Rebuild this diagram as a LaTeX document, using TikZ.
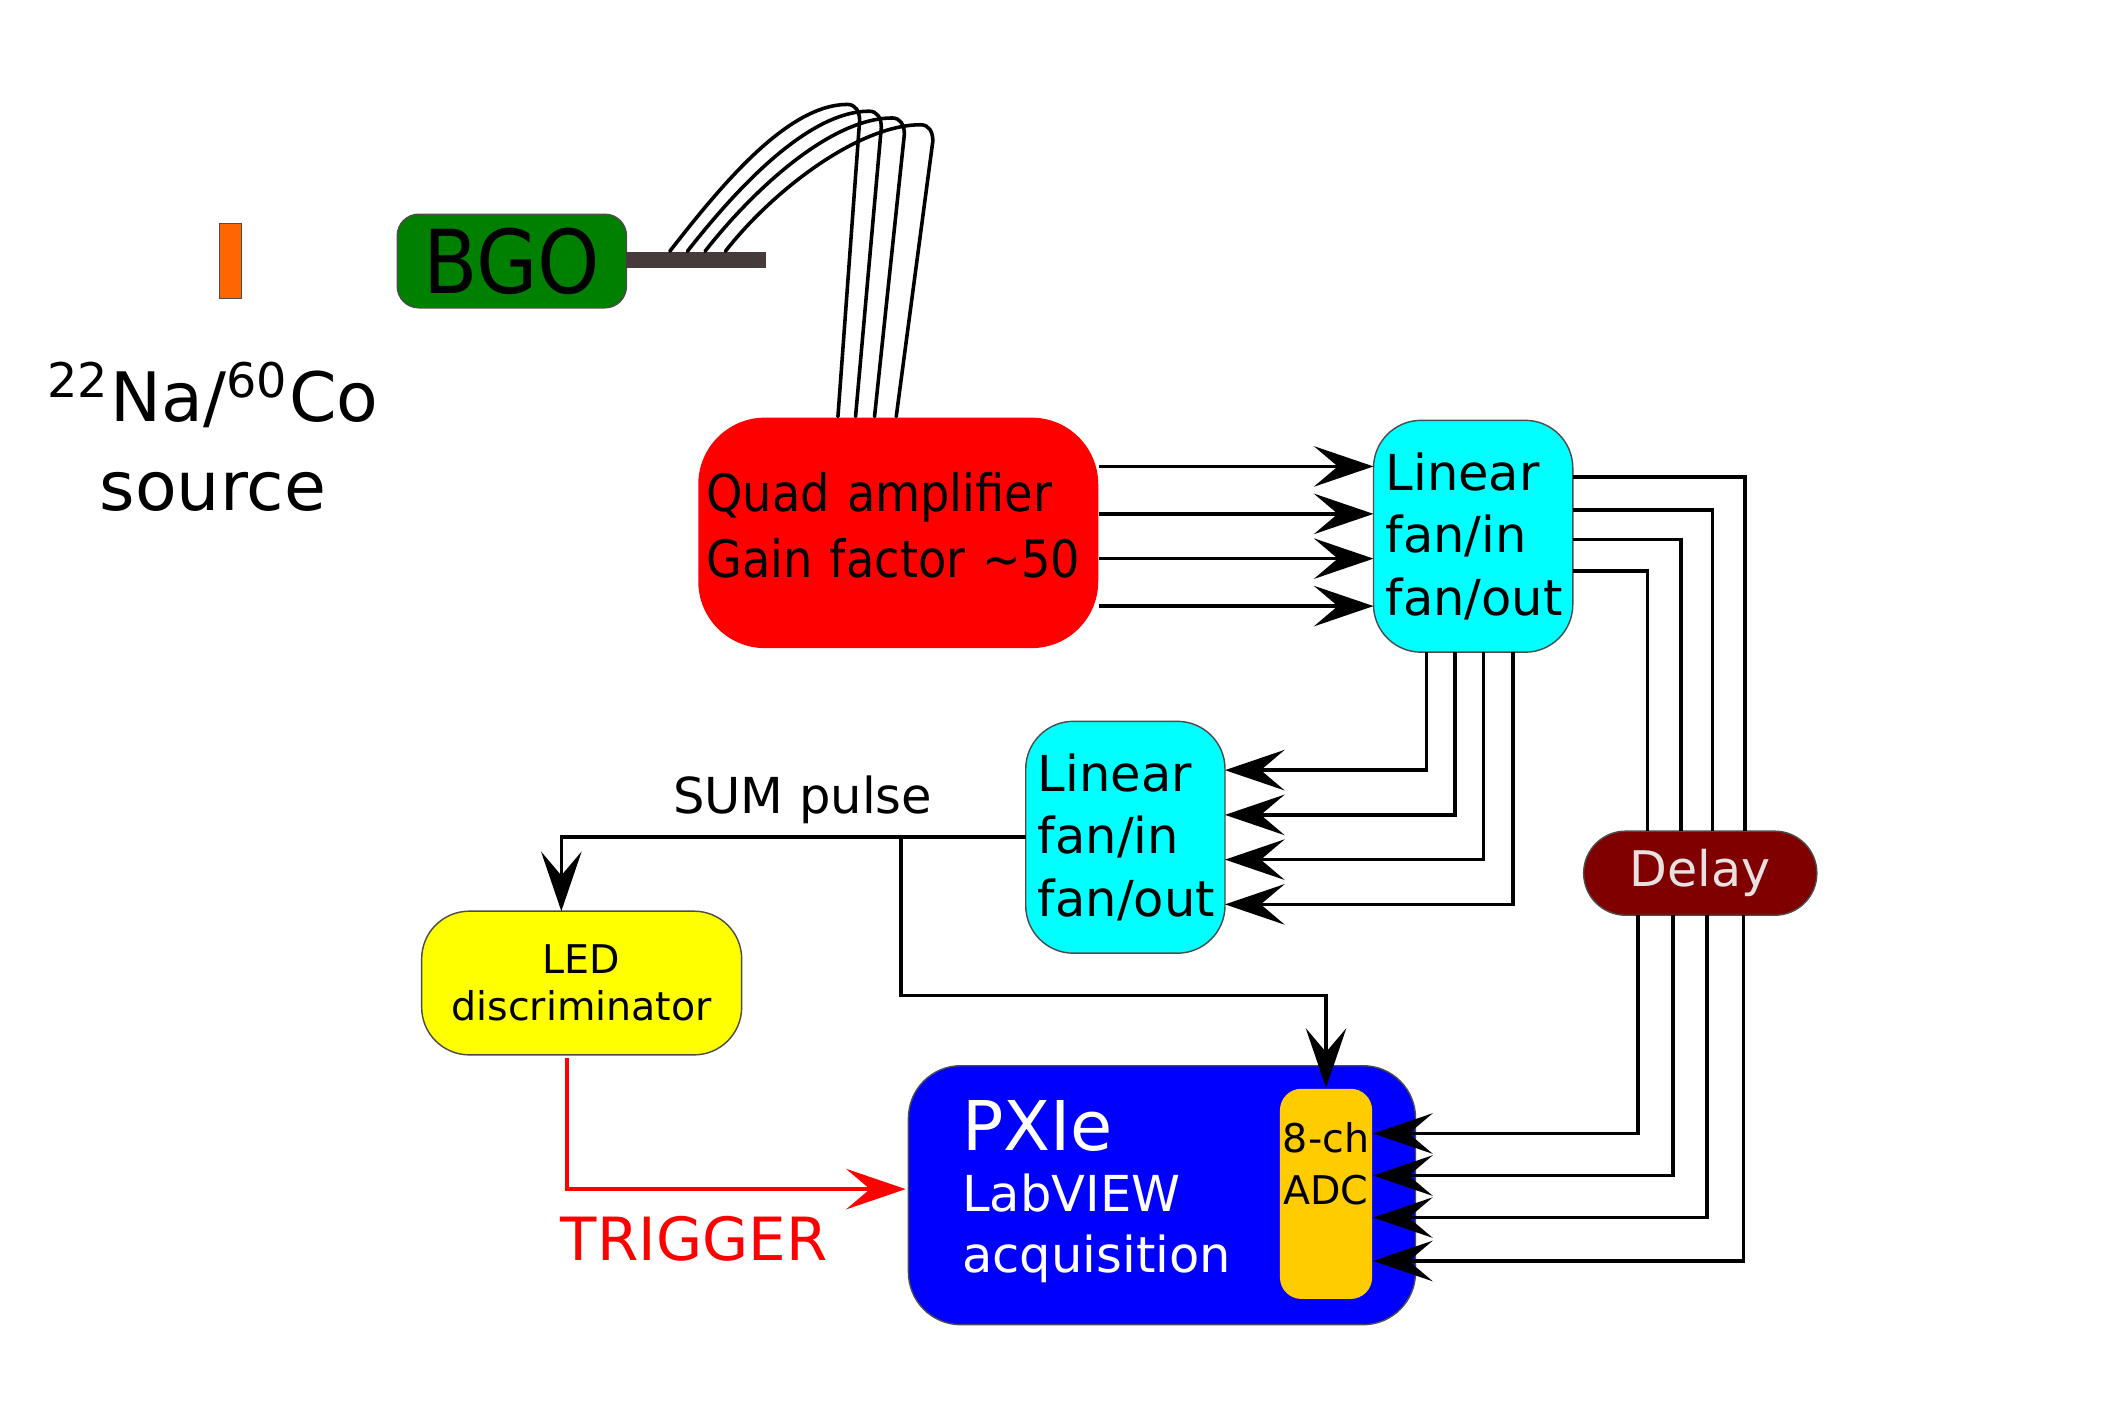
\documentclass[tikz,border=0pt]{standalone}
\usepackage{fontspec}
\setmainfont{DejaVu Sans}
\newfontfamily\condfont{DejaVu Sans Condensed}
\usepackage{tikz}
\usetikzlibrary{arrows.meta,calc}
\usepackage{xcolor}
\definecolor{srcorange}{HTML}{FF6600}
\definecolor{bgogreen}{HTML}{008000}
\definecolor{pmtgray}{HTML}{473A3A}
\definecolor{fancyan}{HTML}{00FFFF}
\definecolor{ledyellow}{HTML}{FFFF00}
\definecolor{pxiblue}{HTML}{0000FF}
\definecolor{adcorange}{HTML}{FFCC00}
\definecolor{delayred}{HTML}{800000}
\definecolor{delaytext}{HTML}{E9E1E1}
\tikzset{
  >={Stealth[length=12.5pt,width=8.5pt,inset=5pt]}, % big black arrow heads
  sig/.style={line width=0.75pt,black},
  trig/.style={line width=0.75pt,red},
  cable/.style={line width=0.75pt,line cap=round}
}
\tikzset{basic/.style={draw=black!70,line width=0.3pt,inner sep=0pt,outer sep=0pt}}
\tikzset{srcbox/.style={basic,fill=srcorange,minimum width=1.6mm,minimum height=5.5mm}}
\tikzset{srclabel/.style={inner sep=0pt,align=center,anchor=north,
                          font=\fontsize{14.3}{18.5}\selectfont}}
\tikzset{bgobox/.style={basic,fill=bgogreen,rounded corners=4.5pt,minimum width=16.9mm,
                        minimum height=6.9mm,font=\condfont\fontsize{18.5}{20}\selectfont}}
\tikzset{pmtbar/.style={fill=pmtgray,inner sep=0pt,minimum width=10.3mm,minimum height=1.2mm}}
\tikzset{ampbox/.style={fill=red,rounded corners=14pt,inner ysep=0pt,inner xsep=0.6mm,
                        minimum width=29.5mm,minimum height=17mm,text width=28.3mm,align=left,
                        text depth=6mm,font=\condfont\fontsize{10.8}{13.9}\selectfont}}
\tikzset{fanbox/.style={basic,fill=fancyan,rounded corners=10pt,inner xsep=0.9mm,
                        minimum width=14.7mm,minimum height=17.1mm,text width=12.9mm,align=left,
                        font=\fontsize{10.4}{13.1}\selectfont}}
\tikzset{delaybox/.style={basic,fill=delayred,text=delaytext,rounded corners=3.1mm,
                          minimum width=17.2mm,minimum height=6.2mm,
                          font=\fontsize{10.3}{12}\selectfont}}
\tikzset{ledbox/.style={basic,fill=ledyellow,rounded corners=10pt,minimum width=23.6mm,
                        minimum height=10.6mm,align=center,font=\fontsize{8.3}{10}\selectfont}}
\tikzset{pxiebox/.style={basic,fill=pxiblue,rounded corners=11pt,minimum width=37.4mm,
                         minimum height=19.1mm}}
\tikzset{pxietext/.style={text=white,inner sep=0pt,anchor=west,align=left,
                          font=\fontsize{10.4}{12.8}\selectfont}}
\tikzset{adcbox/.style={fill=adcorange,rounded corners=4.5pt,inner sep=0pt,
                        minimum width=6.8mm,minimum height=15.5mm}}
\tikzset{adctext/.style={inner sep=0pt,anchor=north,align=center,
                         font=\fontsize{8.3}{10.8}\selectfont}}
\tikzset{sumlabel/.style={inner sep=0pt,anchor=base,font=\fontsize{10.4}{12}\selectfont}}
\tikzset{triglabel/.style={inner sep=0pt,anchor=base,text=red,font=\fontsize{12.5}{15}\selectfont}}

\begin{document}
\begin{tikzpicture}[x=0.1mm,y=-0.1mm]
            \useasboundingbox (0,0) rectangle (1568,1046);

            % Source and detector
            \node[srcbox] (source) at (170,192.5) {};
            \node[srclabel] (srctxt) at (157,266) {\textsuperscript{22}Na/\textsuperscript{60}Co\\source};
            \node[bgobox] (bgo) at (377.5,192.5) {BGO};
            \node[pmtbar] (bar) at (513.5,192) {};

            % Modules
            \node[ampbox] (amp) at (662.5,393) {Quad amplifier\\Gain factor \textasciitilde50};
            \node[fanbox] (fanA) at (1086.5,395.5) {Linear\\fan/in\\fan/out};
            \node[fanbox] (fanB) at (830,617.5) {Linear\\fan/in\\fan/out};
            \node[delaybox] (delay) at (1254,644) {Delay};
            \node[ledbox] (led) at (429,725) {LED\\discriminator};
            \node[pxiebox] (pxie) at (857,881.5) {};
            \node[pxietext] (pxietxt) at ($(pxie.west)+(39,-2.5)$) {{\fontsize{14.4}{17}\selectfont PXIe}\\LabVIEW\\acquisition};
            \node[adcbox] (adc) at (978,880.5) {};
            \node[adctext] (adctxt) at ($(adc.north)+(0,25)$) {8-ch\\ADC};

            % Draw the four cables from the detector to the amplifier
            \foreach \sx/\hx/\ty/\bx in {-19.5/634/77/-44.5,-6.5/650/82/-31.5,6.5/667/87/-17.5,21.5/688/92/-1.5}{%
            \draw[cable] ($(bar.north)+(\sx,0)$) .. controls ($(bar.north)+(\sx+36,-46)$) and (\hx-54,\ty) .. (\hx-9,\ty)
                 .. controls (\hx-3,\ty) and (\hx,\ty+5) .. (\hx,\ty+12) -- ($(amp.north)+(\bx,0)$);
            }
            % Amplifier to first fan
            \foreach \dy in {-49,-14,19,54}{%
            \draw[sig,->] ($(amp.east)+(0,\dy)$) coordinate (a) -- (a -| fanA.west);
            }
            % First fan to delay
            \foreach \dy/\dx in {-43.5/33,-19.5/9,2.5/-14,25.5/-39}{%
            \draw[sig] ($(fanA.east)+(0,\dy)$) -| ($(delay.north)+(\dx,0)$);
            }
            % First fan to second fan
            \foreach \dx/\dy in {-34.5/-49.5,-13.5/-16.5,7.5/16.5,29.5/49.5}{%
            \draw[sig,->] ($(fanA.south)+(\dx,0)$) |- ($(fanB.east)+(0,\dy)$);
            }
            % Delay to ADC
            \foreach \dx/\dy in {-46/-44.5,-20/-13.5,5/17.5,32/49.5}{%
            \draw[sig,->] ($(delay.south)+(\dx,0)$) |- ($(adc.east)+(0,\dy)$);
            }
            % Sum pulse to discriminator and ADC
            \draw[sig,->] (fanB.west) -| ($(led.north)+(-15,0)$);
            \path (fanB.west) -- ++(-92,0) coordinate (sumsplit);
            \draw[sig,->] (sumsplit) |- ($(adc.north)+(0,-68)$) -- (adc.north);
            \node[sumlabel] (sumtxt) at (592,600) {SUM pulse};
            % Trigger
            \draw[trig,->] ($(led.south)+(-11,2)$) |- ($(pxie.west)+(-2,-4.5)$);
            \node[triglabel] (trigtxt) at (512,930) {TRIGGER};
\end{tikzpicture}
\end{document}
